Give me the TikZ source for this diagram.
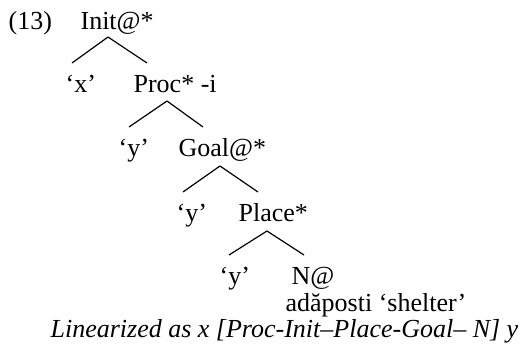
\documentclass[tikz,border=0pt]{standalone}
\usepackage{fontspec}
\setmainfont{Liberation Serif}
\usepackage{tikz}

\begin{document}
\begin{tikzpicture}
[x=0.5pt,y=-0.5pt,line width=0.6pt,
every node/.style={anchor=base west,inner sep=0pt,font=\fontsize{13}{15}\selectfont}]
\tikzstyle{lbl}=[font=\fontsize{13}{15}\selectfont\itshape]
\useasboundingbox (0,0) rectangle (531,353);

\node (ex)    at (8,30)   {(13)};
\node (init)  at (80,30)  {Init@*};
\node (x)     at (65,93)  {`x'};
\node (proc)  at (133,93) {Proc* -i};
\node (y1)    at (118,157) {`y'};
\node (goal)  at (178,157) {Goal@*};
\node (y2)    at (176,221) {`y'};
\node (place) at (238,221) {Place*};
\node (y3)    at (219,285) {`y'};
\node (n)     at (291,285) {N@};
\node (gloss) at (285,312) {ad\u{a}posti `shelter'};
\node[lbl] (lin) at (50,337) {Linearized as x [Proc-Init--Place-Goal-- N] y};

% branch points
\coordinate (a1) at (108,37);  \coordinate (l1) at (72,63);  \coordinate (r1) at (147,63);
\coordinate (a2) at (167,101); \coordinate (l2) at (129,127); \coordinate (r2) at (203,127);
\coordinate (a3) at (220,166); \coordinate (l3) at (183,192); \coordinate (r3) at (258,192);
\coordinate (a4) at (267,231); \coordinate (l4) at (229,255); \coordinate (r4) at (304,255);

\path
(a1) edge (l1) edge (r1)
(a2) edge (l2) edge (r2)
(a3) edge (l3) edge (r3)
(a4) edge (l4) edge (r4)
;\end{tikzpicture}
\end{document}
